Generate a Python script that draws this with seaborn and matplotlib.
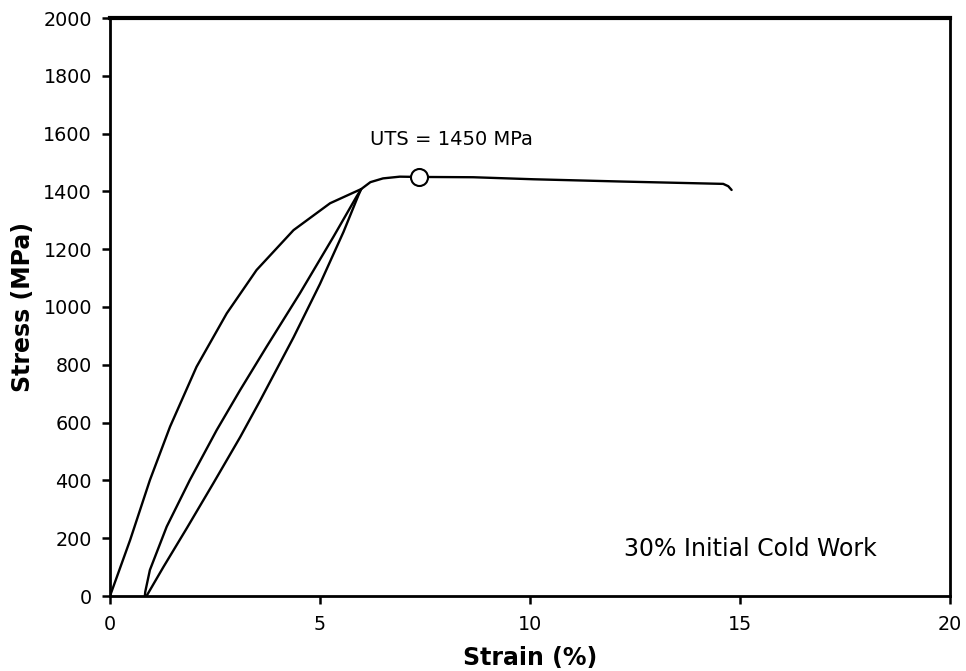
import matplotlib
matplotlib.use("Agg")
import matplotlib.pyplot as plt
import seaborn as sns
import pandas as pd

# Monotonic loading from zero up to the unloading point
load_strain = [0.0, 0.48, 0.95, 1.43, 2.06, 2.78, 3.49, 4.37, 5.24, 5.98]
load_stress = [0, 194, 401, 586, 793, 978, 1128, 1266, 1359, 1408]

# Unloading branch back to zero stress
unload_strain = [5.98, 5.87, 5.32, 4.52, 3.73, 3.10, 2.54, 1.90, 1.35, 0.95, 0.84, 0.83]
unload_stress = [1408, 1382, 1243, 1047, 863, 713, 574, 401, 240, 90, 15, 0]

# Reloading branch from the permanent set back to the unloading point
reload_strain = [0.87, 1.27, 1.83, 2.46, 3.10, 3.57, 4.37, 5.00, 5.56, 5.91, 5.98]
reload_stress = [0, 100, 235, 390, 550, 675, 895, 1080, 1260, 1385, 1408]

# Continued straining after reloading, up to fracture
plateau_strain = [5.98, 6.20, 6.50, 6.90, 7.35, 8.65, 10.08, 12.22, 13.41, 14.60, 14.72, 14.80]
plateau_stress = [1408, 1432, 1445, 1451, 1450, 1449, 1442, 1434, 1430, 1426, 1418, 1405]

uts_strain = [7.35]
uts_stress = [1450]

sns.set_theme(style="white")
plt.rcParams["font.family"] = ["DejaVu Sans"]

fig = plt.figure(figsize=(9.66, 6.71), dpi=100)
ax = fig.add_axes([110 / 966, 75 / 671, 840 / 966, 578 / 671])

branches = [
    ("load", load_strain, load_stress),
    ("unload", unload_strain, unload_stress),
    ("reload", reload_strain, reload_stress),
    ("plateau", plateau_strain, plateau_stress),
]
for name, xs, ys in branches:
    df = pd.DataFrame({"strain": xs, "stress": ys})
    sns.lineplot(data=df, x="strain", y="stress", ax=ax, color="black",
                 linewidth=1.7, sort=False, estimator=None)

sns.scatterplot(x=uts_strain, y=uts_stress, ax=ax, s=150, color="white",
                edgecolor="black", linewidth=1.5, zorder=5)

ax.text(8.14, 1578, f"UTS = {uts_stress[0]} MPa", ha="center", va="center",
        fontsize=14, color="black")
ax.text(15.24, 163, "30% Initial Cold Work", ha="center", va="center",
        fontsize=17, color="black")

ax.set_xlim(0, 20)
ax.set_ylim(0, 2000)
ax.set_xticks([0, 5, 10, 15, 20])
ax.set_yticks(range(0, 2001, 200))
ax.tick_params(axis="both", direction="out", length=6, width=1.8,
               labelsize=13.8, colors="black", left=True, bottom=True)
ax.tick_params(axis="x", pad=8)
ax.tick_params(axis="y", pad=7)
ax.set_xlabel("Strain (%)", fontsize=17, fontweight="bold", color="black",
              labelpad=8)
ax.set_ylabel("Stress (MPa)", fontsize=17, fontweight="bold", color="black",
              labelpad=6)

for side, sp in ax.spines.items():
    sp.set_visible(True)
    sp.set_color("black")
    sp.set_linewidth(2.0)
ax.spines["top"].set_linewidth(3.0)

fig.savefig("out.png", dpi=100)
